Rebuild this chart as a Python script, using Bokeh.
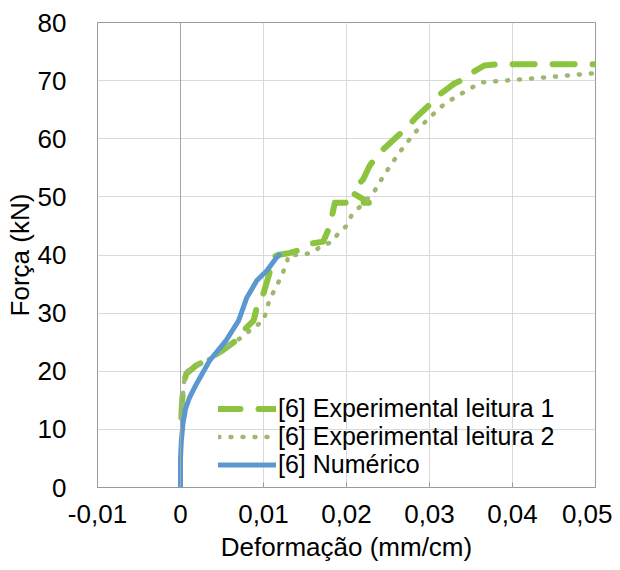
from bokeh.plotting import figure
from bokeh.models import FixedTicker, Span, Legend, LegendItem
from bokeh.embed import file_html
from bokeh.resources import INLINE

# ---- data ----
exp1_x = [0.0001, 0.0002, 0.0004, 0.0007, 0.0019, 0.0030, 0.0050, 0.0067, 0.0076, 0.0088,
          0.0092, 0.0100, 0.0107, 0.0112, 0.0117, 0.0130, 0.0142, 0.0158, 0.0172, 0.0180,
          0.0184, 0.0186, 0.0227, 0.0206, 0.0220, 0.0228, 0.0240, 0.0258, 0.0272, 0.0284,
          0.0299, 0.0314, 0.0330, 0.0345, 0.0353, 0.0366, 0.0380, 0.0500]
exp1_y = [12, 15, 18, 19.6, 21, 21.8, 23.5, 25.3, 27, 28.7,
          31, 33.4, 36.8, 39.6, 40, 40.3, 40.8, 42, 42.3, 45,
          47.7, 49, 49, 50.8, 53, 55.4, 57.6, 60, 61.8, 63.7,
          65.7, 67.8, 69.5, 70.5, 71.5, 72.6, 72.8, 72.8]

exp2_x = [0.0001, 0.0004, 0.0008, 0.0020, 0.0040, 0.0060, 0.0075, 0.0088, 0.0100, 0.0107,
          0.0119, 0.0128, 0.0130, 0.0146, 0.0160, 0.0170, 0.0182, 0.0190, 0.0200, 0.0206,
          0.0233, 0.0245, 0.0263, 0.0282, 0.0299, 0.0318, 0.0339, 0.0351, 0.0363, 0.0390,
          0.0435, 0.0492, 0.0500]
exp2_y = [12, 18, 20, 21, 22.5, 24.5, 26, 27.5, 28.7, 32.2,
          35.6, 38.5, 40, 40, 40.5, 41.6, 42.2, 43.7, 45, 46.8,
          50.8, 53.7, 57.5, 61, 63.5, 66, 67.8, 68.8, 69.7, 70,
          70.5, 71.2, 71.3]

num_x = [0.0, 0.0, 0.0001, 0.0003, 0.0006, 0.0011, 0.0018, 0.0035, 0.0055, 0.0070,
         0.0080, 0.0092, 0.0104, 0.0116, 0.0119]
num_y = [0, 5, 8, 11, 13.5, 15.5, 17.5, 21.8, 25.3, 28.7,
         32.7, 35.6, 37.3, 39.6, 40]

x_ticks = [-0.01, 0.0, 0.01, 0.02, 0.03, 0.04, 0.05]
x_tick_labels = ["-0,01", "0", "0,01", "0,02", "0,03", "0,04", "0,05"]
y_ticks = [0, 10, 20, 30, 40, 50, 60, 70, 80]

series_names = ["[6] Experimental leitura 1", "[6] Experimental leitura 2", "[6] Numérico"]

FONT = "Liberation Sans"
FS = "26px"

p = figure(width=612, height=565, output_backend="svg", toolbar_location=None,
           x_range=(-0.01, 0.05), y_range=(0, 80),
           min_border_left=97, min_border_right=17, min_border_top=22, min_border_bottom=78)
p.background_fill_color = "white"
p.border_fill_color = "white"
p.outline_line_color = "#9a9a9a"
p.outline_line_width = 1

for ax in (p.xaxis[0], p.yaxis[0]):
    ax.axis_line_color = None
    ax.major_label_text_font = FONT
    ax.major_label_text_font_size = FS
    ax.major_label_text_color = "#000000"
    ax.axis_label_text_font = FONT
    ax.axis_label_text_font_size = FS
    ax.axis_label_text_font_style = "normal"
    ax.axis_label_text_color = "#000000"
    ax.minor_tick_line_color = None

p.xaxis.ticker = FixedTicker(ticks=x_ticks)
p.xaxis.major_label_overrides = {t: l for t, l in zip(x_ticks, x_tick_labels)}
p.xaxis.major_tick_in = 5
p.xaxis.major_tick_out = 0
p.xaxis.major_tick_line_color = "#9a9a9a"
p.xaxis.major_label_standoff = 17
p.xaxis.axis_label = "Deformação (mm/cm)"
p.xaxis.axis_label_standoff = 6

p.yaxis.ticker = FixedTicker(ticks=y_ticks)
p.yaxis.major_tick_line_color = None
p.yaxis.major_label_standoff = 25
p.yaxis.axis_label = "Força (kN)"
p.yaxis.axis_label_standoff = 0

p.xgrid.ticker = FixedTicker(ticks=x_ticks)
p.ygrid.ticker = FixedTicker(ticks=y_ticks)
p.grid.grid_line_color = "#d9d9d9"
p.grid.grid_line_width = 1

p.add_layout(Span(location=0, dimension="height", line_color="#a6a6a6", line_width=1))

r1 = p.line(exp1_x, exp1_y, line_color="#8cc43f", line_width=6, line_dash="22 18",
            line_cap="round", line_join="round")
r2 = p.line(exp2_x, exp2_y, line_color="#9fb870", line_width=4.5, line_dash="1 11",
            line_cap="round", line_join="round")
r3 = p.line(num_x, num_y, line_color="#5b97d0", line_width=5, line_cap="round", line_join="round")

renderers = [r1, r2, r3]
legend_offsets = [64, 36, 8]
for name, rend, off in zip(series_names, renderers, legend_offsets):
    lg = Legend(items=[LegendItem(label=name, renderers=[rend])], location=(121, off))
    lg.background_fill_alpha = 0
    lg.border_line_alpha = 0
    lg.padding = 0
    lg.margin = 0
    lg.spacing = 0
    lg.glyph_width = 58
    lg.glyph_height = 27
    lg.label_height = 27
    lg.label_standoff = 2
    lg.label_text_font = FONT
    lg.label_text_font_size = "25px"
    lg.label_text_color = "#000000"
    p.add_layout(lg)

open("out.html", "w").write(file_html(p, INLINE))
